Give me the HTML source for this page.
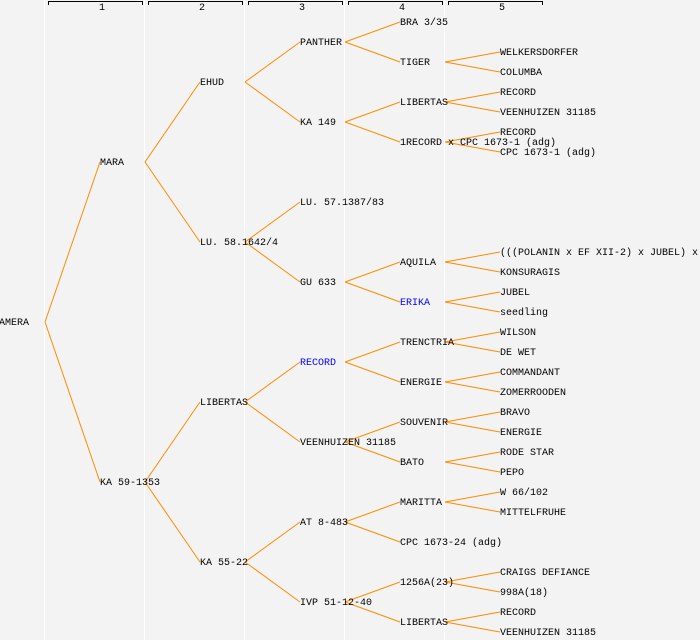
<!DOCTYPE html>
<html><head><meta charset="utf-8"><style>
html,body{margin:0;padding:0;background:#f3f3f3;}
svg{display:block}
text{font-family:"Liberation Mono","DejaVu Sans Mono",monospace;font-size:10px;fill:#000;dominant-baseline:central}
</style></head><body>
<svg width="700" height="640" xmlns="http://www.w3.org/2000/svg">
<rect width="700" height="640" fill="#f3f3f3"/>
<g stroke="#fff" stroke-width="1">
<line x1="44.5" y1="0" x2="44.5" y2="640"/><line x1="144.5" y1="0" x2="144.5" y2="640"/>
<line x1="244.5" y1="0" x2="244.5" y2="640"/><line x1="344.5" y1="0" x2="344.5" y2="640"/>
<line x1="444.5" y1="0" x2="444.5" y2="640"/>
</g>
<g stroke="#000" stroke-width="1" fill="none">
<path d="M48.5 5V1.5H142.5V5"/><path d="M148.5 5V1.5H242.5V5"/><path d="M248.5 5V1.5H342.5V5"/><path d="M348.5 5V1.5H442.5V5"/><path d="M448.5 5V1.5H542.5V5"/>
</g>
<g style="font-size:8px" text-anchor="middle" transform="translate(0,1.5)">
<text x="102" y="7">1</text><text x="202" y="7">2</text><text x="302" y="7">3</text><text x="402" y="7">4</text><text x="502" y="7">5</text>
</g>
<g stroke="#ff8c00" stroke-width="1" fill="none">
<path d="M45 322L100 162M45 322L100 482"/>
<path d="M145 162L200 82M145 162L200 242M145 482L200 402M145 482L200 562"/>
<path d="M245 82L300 42M245 82L300 122M245 242L300 202M245 242L300 282M245 402L300 362M245 402L300 442M245 562L300 522M245 562L300 602"/>
<path d="M345 42L400 22M345 42L400 62M345 122L400 102M345 122L400 142M345 282L400 262M345 282L400 302M345 362L400 342M345 362L400 382M345 442L400 422M345 442L400 462M345 522L400 502M345 522L400 542M345 602L400 582M345 602L400 622"/>
<path d="M445 62L500 52M445 62L500 72M445 102L500 92M445 102L500 112M445 142L500 132M445 142L500 152M445 262L500 252M445 262L500 272M445 302L500 292M445 302L500 312M445 342L500 332M445 342L500 352M445 382L500 372M445 382L500 392M445 422L500 412M445 422L500 432M445 462L500 452M445 462L500 472M445 502L500 492M445 502L500 512M445 582L500 572M445 582L500 592M445 622L500 612M445 622L500 632"/>
</g>
<g transform="translate(0,1.5)">
<text x="-1" y="322">AMERA</text>
<text x="100" y="162">MARA</text><text x="100" y="482">KA 59-1353</text>
<text x="200" y="82">EHUD</text><text x="200" y="242">LU. 58.1642/4</text><text x="200" y="402">LIBERTAS</text><text x="200" y="562">KA 55-22</text>
<text x="300" y="42">PANTHER</text><text x="300" y="122">KA 149</text><text x="300" y="202">LU. 57.1387/83</text><text x="300" y="282">GU 633</text><text x="300" y="362" style="fill:#0000ff">RECORD</text><text x="300" y="442">VEENHUIZEN 31185</text><text x="300" y="522">AT 8-483</text><text x="300" y="602">IVP 51-12-40</text>
<text x="400" y="22">BRA 3/35</text><text x="400" y="62">TIGER</text><text x="400" y="102">LIBERTAS</text><text x="400" y="142">1RECORD x CPC 1673-1 (adg)</text><text x="400" y="262">AQUILA</text><text x="400" y="302" style="fill:#0000ff">ERIKA</text><text x="400" y="342">TRENCTRIA</text><text x="400" y="382">ENERGIE</text><text x="400" y="422">SOUVENIR</text><text x="400" y="462">BATO</text><text x="400" y="502">MARITTA</text><text x="400" y="542">CPC 1673-24 (adg)</text><text x="400" y="582">1256A(23)</text><text x="400" y="622">LIBERTAS</text>
<text x="500" y="52">WELKERSDORFER</text><text x="500" y="72">COLUMBA</text><text x="500" y="92">RECORD</text><text x="500" y="112">VEENHUIZEN 31185</text><text x="500" y="132">RECORD</text><text x="500" y="152">CPC 1673-1 (adg)</text>
<text x="500" y="252">(((POLANIN x EF XII-2) x JUBEL) x</text><text x="500" y="272">KONSURAGIS</text><text x="500" y="292">JUBEL</text><text x="500" y="312">seedling</text><text x="500" y="332">WILSON</text><text x="500" y="352">DE WET</text><text x="500" y="372">COMMANDANT</text><text x="500" y="392">ZOMERROODEN</text><text x="500" y="412">BRAVO</text><text x="500" y="432">ENERGIE</text><text x="500" y="452">RODE STAR</text><text x="500" y="472">PEPO</text><text x="500" y="492">W 66/102</text><text x="500" y="512">MITTELFRUHE</text><text x="500" y="572">CRAIGS DEFIANCE</text><text x="500" y="592">998A(18)</text><text x="500" y="612">RECORD</text><text x="500" y="632">VEENHUIZEN 31185</text>
</g>
</svg>
</body></html>
